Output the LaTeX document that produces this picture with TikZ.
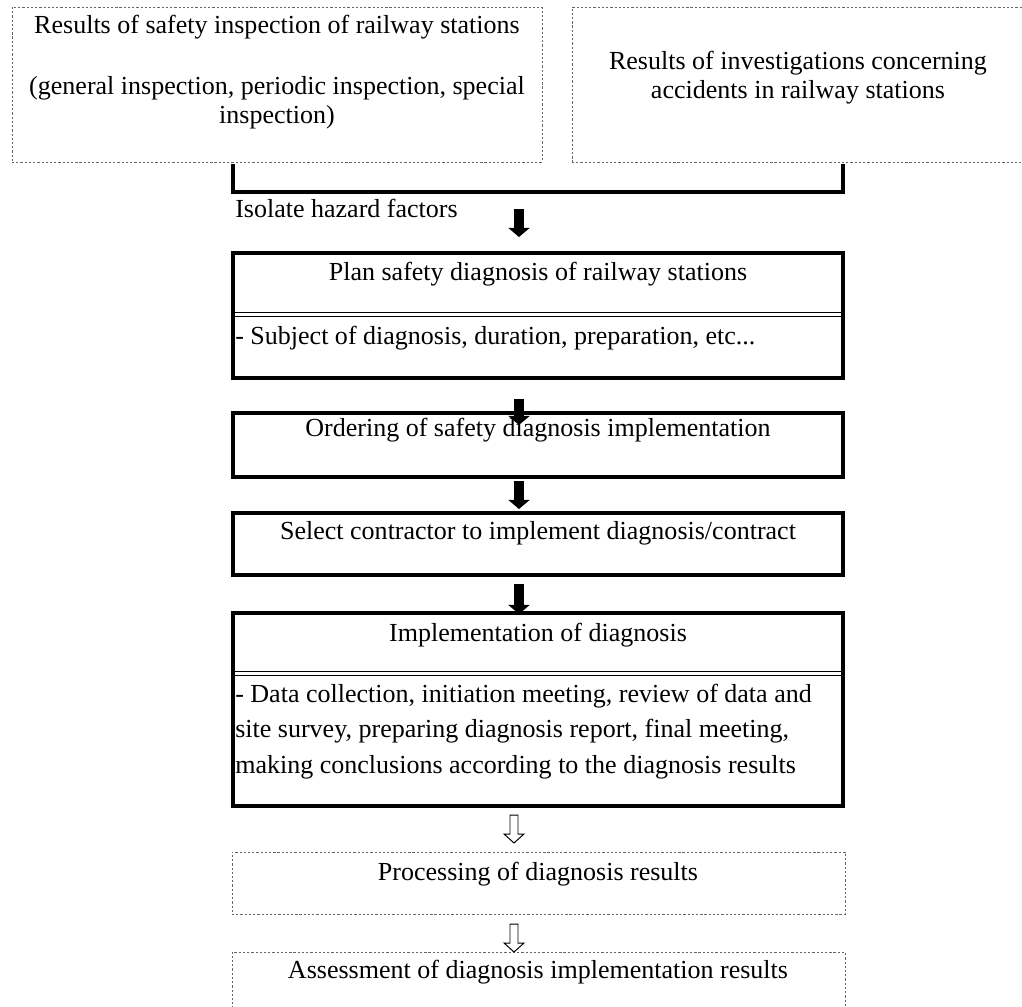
\documentclass[tikz,border=0pt]{standalone}
\usepackage{fontspec}
\setmainfont{Liberation Serif}
\usetikzlibrary{arrows.meta,calc,fit}

\tikzset{
  dotbox/.style={draw=black!60, line width=0.5pt, dash pattern=on 1.6pt off 1.4pt, inner sep=0pt},
  solidbox/.style={draw=black, line width=2.2pt, inner sep=0pt},
  txt/.style={inner sep=0pt, font=\fontsize{18.5}{20.5}\selectfont, align=center},
  bodytxt/.style={inner sep=0pt, font=\fontsize{18.5}{25}\selectfont, align=left},
  fatarrow/.style={line width=7pt, -{Triangle[length=6.5pt,width=15pt]}},
  hollowdown/.pic={
    \draw[line width=0.7pt, fill=white] (-4,0) -- (4,0) -- (4,19) -- (10,19)
      -- (0,28) -- (-10,19) -- (-4,19) -- cycle;}
}

\begin{document}
\begin{tikzpicture}[x=0.025cm,y=-0.025cm]
\useasboundingbox (0,0) rectangle (1022,1007);
\clip (0,0) rectangle (1022,1007);

\node[dotbox, fit={(12,7) (542,162)}] (inspect) {};
\node[dotbox, fit={(572,7) (1040,162)}] (accident) {};
\node[solidbox, fit={(233,253) (843,378)}] (plan) {};
\node[solidbox, fit={(233,413) (843,477)}] (order) {};
\node[solidbox, fit={(233,513) (843,575)}] (select) {};
\node[solidbox, fit={(233,613) (843,806)}] (impl) {};
\node[dotbox, fit={(232,852) (845,914)}] (process) {};
\node[dotbox, fit={(232,952) (845,1030)}] (assess) {};

\node[txt, anchor=base] (inspecttxt) at (277,123)
  {Results of safety inspection of railway stations\\[23pt]
   (general inspection, periodic inspection, special\\inspection)};
\node[txt, anchor=base] (accidenttxt) at (798,98)
  {Results of investigations concerning\\accidents in railway stations};
\node[txt, anchor=base west] (isolate) at (235,217) {Isolate hazard factors};
\node[txt, anchor=base] (plantxt) at (538,280) {Plan safety diagnosis of railway stations};
\node[bodytxt, anchor=base west] (plandesc) at (235,344)
  {- Subject of diagnosis, duration, preparation, etc...};
\node[txt, anchor=base] (ordertxt) at (538,436) {Ordering of safety diagnosis implementation};
\node[txt, anchor=base] (selecttxt) at (538,539) {Select contractor to implement diagnosis/contract};
\node[txt, anchor=base] (impltxt) at (538,641) {Implementation of diagnosis};
\node[bodytxt, anchor=base west] (impldesc) at (235,773)
  {- Data collection, initiation meeting, review of data and\\
   site survey, preparing diagnosis report, final meeting,\\
   making conclusions according to the diagnosis results};
\node[txt, anchor=base] (processtxt) at (538,880) {Processing of diagnosis results};
\node[txt, anchor=base] (assesstxt) at (538,978) {Assessment of diagnosis implementation results};

\coordinate (a1s) at (519,209);
\coordinate (a1e) at (519,237);
\coordinate (a2s) at (519,399);
\coordinate (a2e) at (519,425);
\coordinate (a3s) at (519,481);
\coordinate (a3e) at (519,509);
\coordinate (a4s) at (519,584);
\coordinate (a4e) at (519,614);

\draw[solidbox] (233,164) -- (233,192) -- (843,192) -- (843,164);
\draw[line width=0.6pt] ($(plan.north west)+(0,61)$) -- ($(plan.north east)+(0,61)$)
      ($(plan.north west)+(0,64.5)$) -- ($(plan.north east)+(0,64.5)$);
\draw[line width=0.6pt] ($(impl.north west)+(0,60)$) -- ($(impl.north east)+(0,60)$)
      ($(impl.north west)+(0,63.5)$) -- ($(impl.north east)+(0,63.5)$);

\draw[fatarrow] (a1s) -- (a1e);
\draw[fatarrow] (a2s) -- (a2e);
\draw[fatarrow] (a3s) -- (a3e);
\draw[fatarrow] (a4s) -- (a4e);
\pic at (514,815) {hollowdown};
\pic at (514,924) {hollowdown};
\end{tikzpicture}
\end{document}
